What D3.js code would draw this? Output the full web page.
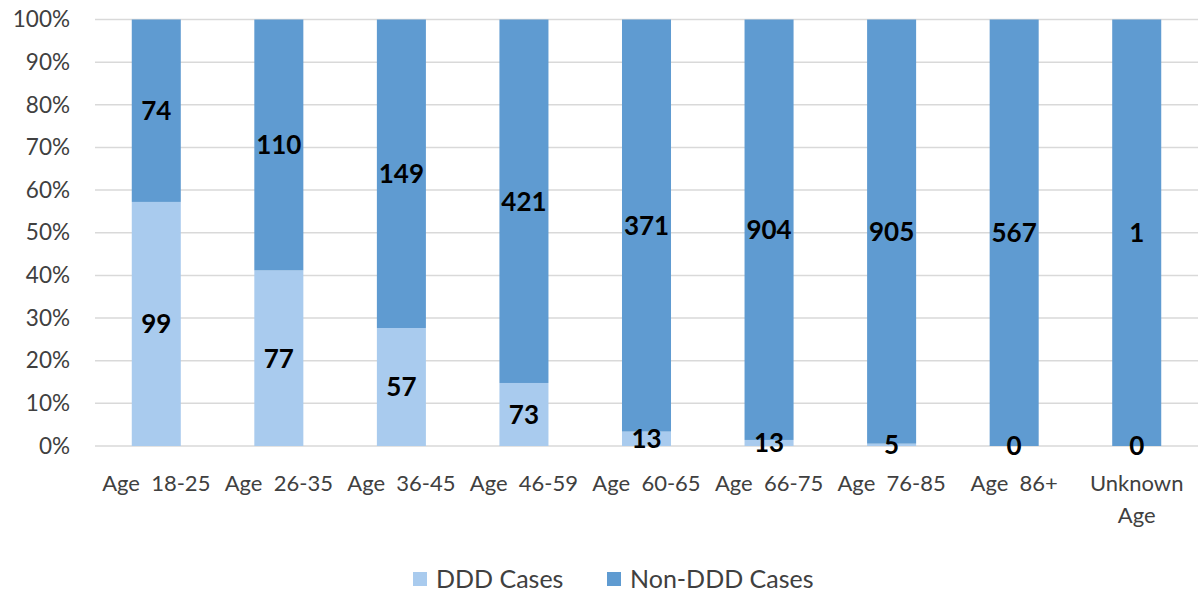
<!DOCTYPE html>
<html><head><meta charset="utf-8">
<script src="https://cdn.jsdelivr.net/npm/d3@7"></script>
<style>body{margin:0;background:#fff}svg{display:block}</style>
</head><body>
<svg id="c" width="1198" height="597"></svg>
<script>
const categories = ["Age 18-25","Age 26-35","Age 36-45","Age 46-59","Age 60-65","Age 66-75","Age 76-85","Age 86+","Unknown Age"];
const dddCases = [99,77,57,73,13,13,5,0,0];
const nonDddCases = [74,110,149,421,371,904,905,567,1];
const seriesNames = ["DDD Cases","Non-DDD Cases"];
const yTicks = [0,0.1,0.2,0.3,0.4,0.5,0.6,0.7,0.8,0.9,1];
const colors = ["#a9cbee","#5f9bd1"];

const svg = d3.select("#c");
const font = "Lato, 'Open Sans', sans-serif";
const m = {l:95, r:1198, t:19.5, b:446};
const x = d3.scaleBand().domain(categories).range([m.l, m.r]).paddingInner(0.6).paddingOuter(0.3);
const y = d3.scaleLinear().domain([0,1]).range([m.b, m.t]);

const data = categories.map((c,i)=>{const t=dddCases[i]+nonDddCases[i];return {c, vals:[dddCases[i],nonDddCases[i]], p:[dddCases[i]/t, nonDddCases[i]/t]};});

// gridlines
svg.append("g").selectAll("line").data(yTicks).join("line")
  .attr("x1",m.l).attr("x2",m.r).attr("y1",d=>y(d)).attr("y2",d=>y(d))
  .attr("stroke","#d9d9d9").attr("stroke-width",1.5);

// y axis
const yAxis = d3.axisLeft(y).tickValues(yTicks).tickFormat(d3.format(".0%")).tickSize(0).tickPadding(0);
const ya = svg.append("g").attr("transform","translate(70,0)").call(yAxis);
ya.select(".domain").remove();
ya.selectAll("text").attr("font-family",font).attr("font-size",22.5).attr("fill","#404040");

// bars
const g = svg.append("g");
data.forEach(d=>{
  let cum=0;
  d.p.forEach((p,k)=>{
    const y0=cum, y1=cum+p; cum=y1;
    g.append("rect").attr("x",x(d.c)).attr("width",x.bandwidth())
      .attr("y",y(y1)).attr("height",y(y0)-y(y1)).attr("fill",colors[k]);
  });
});
// labels
data.forEach(d=>{
  let cum=0;
  d.p.forEach((p,k)=>{
    const mid=cum+p/2; cum+=p;
    g.append("text").attr("x",x(d.c)+x.bandwidth()/2).attr("y",y(mid)).attr("dy","0.36em")
      .attr("text-anchor","middle").attr("font-family",font).attr("font-weight","bold")
      .attr("font-size",26).attr("fill","#000").text(d.vals[k]);
  });
});

// x axis labels
const xa = svg.append("g");
categories.forEach(c=>{
  const words = c==="Unknown Age" ? ["Unknown","Age"] : [c.replace(" ","\u00a0\u00a0")];
  const t = xa.append("text").attr("x",x(c)+x.bandwidth()/2).attr("y",491)
    .attr("text-anchor","middle").attr("font-family",font).attr("font-size",22).attr("fill","#404040");
  words.forEach((w,i)=>t.append("tspan").attr("x",x(c)+x.bandwidth()/2).attr("dy",i?32:0).text(w));
});

// legend
const leg = svg.append("g");
const lx = [413, 607];
seriesNames.forEach((s,i)=>{
  leg.append("rect").attr("x",lx[i]).attr("y",572).attr("width",14).attr("height",14).attr("fill",colors[i]);
  leg.append("text").attr("x",lx[i]+23).attr("y",588).attr("font-family",font).attr("font-size",25).attr("fill","#404040").text(s);
});
</script>
</body></html>
